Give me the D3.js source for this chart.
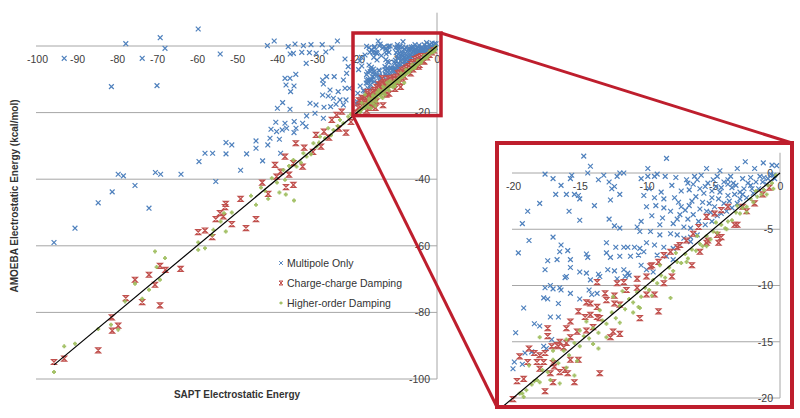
<!DOCTYPE html>
<html><head><meta charset="utf-8">
<script src="https://cdn.jsdelivr.net/npm/d3@7"></script>
<style>body{margin:0;background:#fff;} svg{display:block;font-family:"Liberation Sans",Arial,sans-serif;}</style>
</head><body><svg id="c" width="800" height="418"></svg>
<script>
// ---------- DATA ----------
const seriesNames = ["Multipole Only", "Charge-charge Damping", "Higher-order Damping"];
const xTitle = "SAPT Electrostatic Energy";
const yTitle = "AMOEBA Electrostatic Energy (kcal/mol)";
const mainXTicks = [-100, -90, -80, -70, -60, -50, -40, -30, -20, -10, 0];
const mainYTicks = [0, -20, -40, -60, -80, -100];
const insetXTicks = [-20, -15, -10, -5, 0];
const insetYTicks = [0, -5, -10, -15, -20];
const identityLine = [[-95.75, -95.75], [0, 0]];

const multipoleOnly = [
[-59.7,5.1],[-69.2,2.5],[-68,-0.7],[-77.8,0.7],[-93.2,-3.7],[-73.7,-3.7],[-54.2,-2.4],[-81.4,-12.2],[-70,-11.9],
[-42.4,0.1],[-40.7,1.5],[-37.2,-0.2],[-35.5,0.6],[-33.4,0.1],[-31.5,0.4],[-28.7,0.4],[-26.3,-0.6],[-24.9,1.5],
[-36.7,-2.4],[-35.9,-2.2],[-33.8,-1.9],[-31.9,-2.0],[-30.2,-2.2],[-27.8,-1.8],[-32.7,-5.2],[-23,-3.9],
[-38,-9.7],[-36.75,-9.7],[-35.3,-8.5],[-37.75,-11.7],[-35.75,-12],[-36.6,-13.7],
[-28.6,-10.2],[-27.6,-9.2],[-25.7,-9.2],[-23.4,-10.2],[-28.4,-11.4],[-26.75,-13.2],[-24.7,-13.7],[-23,-12.7],
[-28.6,-14.7],[-27.2,-15],[-25.9,-15.7],[-24.25,-16.2],[-22.75,-16.2],
[-31.75,-17.2],[-30.25,-17.7],[-28.25,-18.4],[-26.6,-18.2],[-25.25,-17.5],[-23.4,-17.7],
[-38.6,-17],[-39.9,-18.7],[-36.75,-19],[-32.6,-21],[-30.5,-20.2],[-28.4,-21.7],
[-40.3,-22.9],[-38,-23.2],[-35.7,-22.7],[-33.6,-23.2],
[-41.5,-25],[-40.1,-25.7],[-38.7,-25.2],[-37.6,-24.7],[-35.25,-24.7],[-32.75,-24.2],
[-41.75,-27.7],[-39.4,-28],[-35.75,-26],
[-45.25,-28.5],[-42.3,-29.7],[-52.75,-29],[-51.3,-29.7],[-45.25,-30.7],
[-58,-32.2],[-56.1,-32.2],[-52.75,-32.4],[-47.6,-32.4],[-39.1,-32.2],
[-59.5,-34.7],[-43.6,-34.5],[-49.1,-37.3],
[-79.7,-38.5],[-78.4,-39],[-70.4,-38],[-69.1,-38.5],[-64,-38.5],[-55.3,-40.7],[-75.5,-41.9],
[-81.2,-43.8],[-84.7,-47.1],[-72,-48.7],[-90.5,-54.7],[-95.75,-59],
[-22.2,-6.2],[-22.6,-8.2],[-21.9,-12.7],
[-14.7,1.5],[-14.2,0.6],[-17.6,-0.1],[-17,-0.5],[-15.6,-0.2],[-15.7,-0.5],[-14.4,0],[-13.6,-0.6],[-13.2,-0.2],
[-12.8,-0.8],[-12.2,-0.3],[-12,0],[-11.7,0],[-12.4,-1.2],[-12.6,-1.4],[-12,-1.9],[-16.4,-1.1],
[-16.8,-1.9],[-16,-1.9],[-15.4,-1.9],[-15.1,-2],[-15,-2.3],[-18,-2.7],[-18.9,-3.4],[-15.8,-3.4],[-13.9,-2.9],[-12.7,-2.4],
[-19.3,-4.5],[-15,-4.2],[-12.8,-4.1],[-12.4,-4.7],[-12,-4.9],[-10.7,-4.8],[-17,-5.7],[-18.8,-6],[-19.6,-7.1],
[-16.4,-6.4],[-16.5,-7],[-15.9,-6.9],[-14.5,-7.2],[-14.4,-7.5],[-13,-6.2],
[-12.3,-6.6],[-11.7,-6.6],[-11.4,-6.6],[-10.9,-6.6],[-10.5,-6.7],
[-13,-7.1],[-12.7,-7.5],[-12,-7.4],[-11.2,-7.4],[-10.6,-7.3],
[-17.4,-7.8],[-16.7,-7.7],[-15.7,-7.7],
[-17.6,-8.6],[-15.7,-8.4],[-15,-8.8],[-14.5,-8.9],[-13.6,-9],[-12.9,-8.6],[-12.4,-8.7],[-11.7,-8.6],[-11.4,-8.9],[-16,-9.2],
[-8.5,1.3],[-9.9,0.4],[-9.2,-0.1],[-9.9,-0.3],[-9.4,-0.3],[-10.4,-0.5],[-8.1,-1.1],
[-10.2,-2],[-9.4,-2.2],[-8.7,-2.3],[-10,-3],[-9.3,-2.9],[-8.7,-3.1],[-7.9,-2.2],[-7.4,-3],[-7.5,-3.7],[-6.6,-2.5],
[-6.4,-0.3],[-5.9,-0.2],[-5.5,0.4],[-6.5,-1],[-6,-1.4],[-5.4,-0.9],[-4.7,-0.3],[-4.2,-0.8],[-3.7,-0.3],[-3.2,0.4],
[-2.6,1],[-1.9,0.4],[-1.25,0.9],[-0.6,0.7],[-0.25,0.65],[-0.9,-0.5],[-1.6,-1.4],[-2.2,-1.1],[-3,-1.7],[-3.9,-2],
[-4.5,-1.7],[-2.5,-2.2],[-3.2,-2.7],[-4.2,-2.7],[-5.1,-2.2],[-4.9,-3],[-5.5,-3.4],[-4,-3.4],[-6.5,-3.7],
[-6.1,-4.3],[-5.6,-4.6],[-5.1,-4.3],[-8,-4.5],[-7.2,-4.8],[-6.7,-4.9],[-10.4,-4.3],[-9,-4.6],
[-10.5,-5.2],[-9.7,-5.2],[-9,-5.5],[-8.2,-5.4],[-7.7,-5.5],[-7.2,-5.8],[-6.7,-5.7],[-6.2,-5.5],
[-10,-6.2],[-9.4,-6.4],[-8.7,-6.6],[-8,-6.7],[-7.5,-6.4],[-6.7,-6.1],
[-10.2,-7],[-9.2,-7.3],[-8.5,-7.4],[-8,-7.7],[-10.4,-8.2],[-10,-8.6],[-9.5,-8.8],
[-17.6,-10.2],[-17.2,-10],[-17,-10.3],[-16.5,-10.2],[-16.4,-10.4],[-15.7,-10.7],[-17.7,-11.1],[-17.4,-11.2],[-16.6,-11.6],
[-19.2,-12],[-15,-11.2],[-14.3,-10.4],[-14.1,-10.8],[-13.7,-10.7],
[-17.2,-12.8],[-16.6,-12.8],[-18.4,-13.4],[-18,-13.6],[-19.8,-14.2],[-17.1,-14.8],[-17.7,-15.4],[-17.5,-15.6],
[-19.1,-16],[-18.6,-15.9],[-19.9,-16.8],[-19.3,-17],[-20,-17.4],
[-16.1,-9.3],[-14.2,-9.5],[-13.5,-9.2],[-12.2,-9.4],[-11.6,-9.2],[-11.3,-9.1],
[-4.5,0.2],[-3.5,-0.9],[-2.8,-0.5],[-1.5,-0.3],[-1,-1],[-0.5,-0.2],[-2,-1.8],[-3.6,-1.3],[-4.8,-1.2],[-5.7,-1.8],
[-6.8,-1.5],[-7,-0.6],[-7.8,-0.4],[-8.6,-0.3],[-3,-2.3],[-2.2,-0.4],[-1.3,-0.8],[-0.7,-0.1],[-5.3,-2.7],[-4.4,-3.6],
[-3.6,-3.1],[-6,-3.2],[-6.9,-4.1],[-7.6,-2.6],
[-6.2,-0.6],[-5.6,-1.2],[-5,-0.6],[-4.4,-1.3],[-3.9,-1],[-3.3,-1.1],[-2.7,-1.4],[-2.4,-0.9],[-1.8,-0.8],[-1.2,-0.4],
[-0.4,-0.5],[-4.6,-2.3],[-3.8,-2.5],[-3.4,-1.9],[-2.8,-1.9],[-6.3,-2.1],[-5.8,-2.6],[-5.2,-3.5],[-4.7,-3.8],[-7.1,-3.3],
[-6.8,-2.9],[-8.2,-3.4],[-8.8,-4],[-7.7,-4.1],[-9.6,-3.8],[-9.8,-1.4],[-8.9,-1.7],[-7.4,-1.6],[-6.9,-0.9],[-5.1,-1.6],
[-3.9,-0.6],[-2.1,-1.4]
];

const chargeDamping = [
[-43.7,-41],[-42.2,-44.4],[-37.75,-42.4],[-35.9,-41.7],[-49.1,-45.9],
[-52.8,-47.4],[-53,-48.4],[-54.25,-50.2],[-53.4,-51.2],[-55.3,-52],[-51.3,-53.5],[-45.25,-52],[-47.75,-54.7],
[-59.7,-55.9],[-58,-55.4],[-56.2,-57.4],
[-64.1,-66.9],[-67.9,-67.2],[-69.25,-66],[-72,-68.7],[-75.5,-70.2],[-70.5,-71.7],
[-77.8,-75.7],[-73.7,-76.9],[-69.25,-77.9],
[-81.3,-81.5],[-79.7,-84],[-81.2,-85.5],[-84.7,-91.4],[-95.75,-94.9],[-93.2,-93.9],
[-40.5,-35.7],[-39.1,-37.7],[-38,-33.2],[-35.3,-29.2],[-33.2,-30.5],[-30.25,-26.7],[-28.25,-25.7],[-22.75,-26],
[-26.3,-22.2],[-25.1,-20.7],[-23.8,-19.7],[-35.9,-35.2],[-33.6,-36.2],[-40.1,-39.2],
[-31,-31.8],[-29,-30.2],[-27,-27.5],[-24.5,-24.8],[-21.5,-22.8],[-37,-38.6],
[-9.6,-8.2],[-9.1,-7.9],[-8.7,-7.3],[-8.2,-7],[-7.5,-6.4],[-7,-6],[-6.5,-5.4],[-6.1,-4.8],[-5.5,-3.9],[-4.9,-3.6],[-4.4,-3.3],[-3.9,-3],
[-6.6,-8.2],[-6,-7],[-5.4,-6],[-4.6,-6.2],[-3.2,-4.6],[-2.5,-3.4],[-1.9,-2.7],[-5.5,-6.2],[-4.7,-5.5],[-4.4,-5.7],
[-3.4,-4.6],[-7.7,-6.6],[-9.7,-8.3],[-2.8,-3.0],[-1.3,-1.9],[-0.8,-1.3],
[-13.7,-9.7],[-12.2,-9.8],[-11.7,-9.7],[-10.7,-9.4],[-10,-9.2],[-8.7,-9.8],[-8.1,-9.2],
[-13.1,-10.7],[-12.4,-10.9],[-11.5,-10.4],[-10.7,-10.2],[-10,-10.8],[-9.4,-10.8],
[-13,-11.3],[-12.4,-11.6],[-12,-11.7],
[-14.5,-11.5],[-14.2,-11.6],[-13.7,-11.9],[-15.1,-12.3],[-14.6,-12.8],[-14.2,-12.6],[-13.7,-12.8],[-13.5,-12.9],
[-15.7,-13.2],[-17.4,-13.8],[-17.4,-14.5],[-16,-13.8],[-15.2,-14.1],[-14.5,-14],[-14,-13.7],
[-10.5,-12.9],[-9.1,-12.3],[-12.7,-14.6],[-12,-14.3],[-12.5,-14.1],
[-15.7,-14.6],[-16.5,-15],[-16.7,-15.3],[-16,-15.1],
[-18.8,-15.6],[-18.4,-16],[-18,-16.2],[-17.6,-16],[-17.1,-15.4],[-16.6,-15.4],[-16.2,-15.5],
[-19.5,-16.3],[-18.9,-16.8],[-18.2,-16.8],[-17.7,-16.8],[-17,-16.9],[-15.7,-16.6],[-15.1,-16.6],
[-18,-17.4],[-17.2,-17.8],[-16.9,-17.2],[-16.5,-17.7],[-16.1,-17.5],[-15.9,-17.8],
[-19.7,-18.5],[-19.2,-18.3],[-17,-18.6],[-15.4,-18.6],[-13.5,-17.8],[-17.6,-19.4],[-20,-20.1]
];

const higherOrderDamping = [
[-45.25,-47.7],[-42.2,-45.9],[-39.4,-44],[-37.8,-44.6],[-35.75,-46.4],
[-53.25,-50.2],[-51.3,-50],[-54.1,-52.7],[-52.8,-55.7],[-55.9,-55.2],[-56.2,-56.7],
[-59.7,-59],[-59.7,-61.2],[-58,-60.7],
[-70.5,-61.7],[-68,-63.7],[-70.1,-66.4],[-69.25,-70.2],[-72,-73.2],
[-75.5,-71.4],[-78,-76.7],[-73.7,-75.9],
[-84.7,-85],[-81.5,-83.7],[-79.7,-85.2],
[-93.2,-90.2],[-90.5,-89.4],[-95.75,-97.9],
[-41.3,-39.7],[-38.4,-37.2],[-35.9,-34.2],[-33.4,-32.2],[-30.9,-29.2],[-29.25,-27.2],[-27.2,-24.7],[-24.25,-22.2],[-22.2,-21.2],
[-38,-40.2],[-35.1,-36.2],[-32.6,-33.2],[-30.1,-30.2],[-28,-27.7],[-25.9,-25.2],[-23.4,-23.2],
[-44,-42.5],[-40,-41],[-37,-36],[-34,-35],[-31.5,-32.5],[-29.5,-29],[-26.5,-26.8],[-24.8,-24],[-21.5,-20.5],[-43,-43.5],[-46.5,-45],
[-0.3,-0.2],[-0.6,-0.9],[-0.9,-1.1],[-1.2,-1.5],[-1.4,-1.9],[-1.7,-2.1],[-2,-2.6],[-2.2,-2.3],[-2.5,-3],[-2.8,-3.1],
[-3,-3.6],[-3.3,-3.5],[-3.6,-4.2],[-3.9,-4.3],[-4.1,-4.9],[-4.4,-4.6],[-4.7,-5.3],[-5,-5.2],[-5.2,-5.9],[-5.5,-5.6],
[-5.8,-6.5],[-6,-6.3],[-6.3,-6.9],[-6.6,-6.8],[-6.9,-7.6],[-7.1,-7.2],[-7.4,-8],[-7.7,-7.9],[-8,-8.7],[-8.3,-8.4],
[-8.6,-9.3],[-8.9,-9.1],[-9.2,-9.8],[-9.5,-9.5],[-9.8,-10.4],[-10.1,-10.2],[-10.4,-11],[-10.7,-10.6],[-11,-11.5],[-11.3,-11.2],
[-11.6,-12.1],[-12,-11.8],[-12.3,-12.9],[-12.6,-12.4],[-13,-13.4],[-13.3,-13.1],[-13.6,-14.2],[-14,-13.8],[-14.3,-14.7],[-14.7,-14.5],
[-15,-15.4],[-15.4,-15.1],[-15.8,-16.2],[-16.2,-15.8],[-16.6,-16.9],[-17,-16.6],[-17.4,-17.7],[-17.8,-17.5],[-18.2,-18.4],[-18.6,-18.8],
[-19,-19.3],[-19.5,-19.6],
[-8.2,-11.1],[-10.6,-11.9],[-13.6,-15.6],[-15.4,-18],[-16.5,-18.7],[-18,-18.6],[-18.4,-18.5],[-19.3,-19.6],[-19.2,-19.9],
[-18,-14.6],[-18.8,-17.1],[-12.5,-11],[-11.8,-10.5],[-13.5,-12.2],[-14.5,-13.2],[-15,-14],[-16,-14.8],[-17,-15.8],
[-9,-8.2],[-7.8,-7.1],[-6.2,-5.6],[-4.8,-4.4],[-3.2,-2.9],[-1.8,-1.6],[-9.6,-10.9],[-11,-12.4],[-12,-13.3],[-14,-15.2],
[-16,-17.3],[-17.2,-18.4],[-15.2,-16.7],[-13,-14.6],[-10.5,-12],[-7,-7.9],[-5.5,-6.5],[-4,-5],[-2.5,-3.5],[-1,-1.9],[-0.5,-1.4]
];

// ---------- STYLE ----------
const colors = ["#4f81bd", "#c0504d", "#9bbb59"];
const markerPaths = [
  "M-2.4,-2.4L2.4,2.4M-2.4,2.4L2.4,-2.4",
  "M-2.5,-2.5H2.5L-2.5,2.5H2.5Z",
  "M-2,0H2M0,-2V2"
];
const gridColor = "#a6a6a6";
const zoomRed = "#be1e2d";
const tickColor = "#404040";
const fmt = d => String(d);

const svg = d3.select("#c");

// ---------- SCALES ----------
const xM = d3.scaleLinear().domain([-100, 0]).range([37, 437]);
const yM = d3.scaleLinear().domain([-100, 0]).range([379, 46]);
const xI = d3.scaleLinear().domain([-20, 0]).range([513, 780]);
const yI = d3.scaleLinear().domain([-20, 0]).range([398, 173]);

function drawPanel(g, x, y, xTicks, yTicks, gridX0, yTopVal, clipId) {
  g.append("g").selectAll("line").data(yTicks).join("line")
    .attr("x1", gridX0).attr("x2", x(0))
    .attr("y1", d => y(d)).attr("y2", d => y(d))
    .attr("stroke", gridColor).attr("stroke-width", 1);
  g.append("line").attr("x1", x(0)).attr("x2", x(0))
    .attr("y1", y(yTicks[yTicks.length - 1])).attr("y2", y(yTopVal))
    .attr("stroke", gridColor).attr("stroke-width", 1);

  const ax = g.append("g").attr("transform", `translate(0,${y(0)})`)
    .call(d3.axisBottom(x).tickValues(xTicks).tickSize(0).tickPadding(10).tickFormat(fmt));
  ax.select(".domain").remove();
  ax.selectAll("text").attr("fill", tickColor).style("font-size", "10.5px").style("font-family", '"Liberation Sans",Arial,sans-serif');

  const ay = g.append("g").attr("transform", `translate(${x(0)},0)`)
    .call(d3.axisLeft(y).tickValues(yTicks).tickSize(0).tickPadding(7).tickFormat(fmt));
  ay.select(".domain").remove();
  ay.selectAll("text").attr("fill", tickColor).style("font-size", "10.5px").style("font-family", '"Liberation Sans",Arial,sans-serif');

  const pg = g.append("g");
  if (clipId) pg.attr("clip-path", `url(#${clipId})`);
  [multipoleOnly, chargeDamping, higherOrderDamping].forEach((data, i) => {
    pg.append("g").selectAll("path").data(data).join("path")
      .attr("transform", d => `translate(${x(d[0])},${y(d[1])})`)
      .attr("d", markerPaths[i])
      .attr("fill", i === 1 ? "#efc3c2" : "none")
      .attr("stroke", colors[i])
      .attr("stroke-width", i === 2 ? 1.8 : 1.2)
      .attr("stroke-opacity", i === 2 ? 0.9 : 1);
  });
  pg.append("path").datum(identityLine)
    .attr("d", d3.line().x(d => x(d[0])).y(d => y(d[1])))
    .attr("stroke", "#000").attr("stroke-width", 1.2).attr("fill", "none");
}

svg.append("defs").append("clipPath").attr("id", "insetClip")
  .append("rect").attr("x", 499).attr("y", 145).attr("width", 291).attr("height", 260);

drawPanel(svg.append("g"), xM, yM, mainXTicks, mainYTicks, 36, 10, null);

svg.append("text").attr("transform", "translate(15,196) rotate(-90)")
  .attr("text-anchor", "middle").attr("dominant-baseline", "middle")
  .style("font-size", "10px").style("font-weight", "bold").attr("fill", "#333")
  .text(yTitle);
svg.append("text").attr("x", 237).attr("y", 398)
  .attr("text-anchor", "middle")
  .style("font-size", "10px").style("font-weight", "bold").attr("fill", "#333")
  .text(xTitle);

const lg = svg.append("g");
seriesNames.forEach((name, i) => {
  const cy = 263 + i * 20;
  lg.append("path").attr("transform", `translate(281,${cy}) scale(0.8)`)
    .attr("d", markerPaths[i]).attr("fill", i === 1 ? "#efc3c2" : "none")
    .attr("stroke", colors[i]).attr("stroke-width", i === 2 ? 1.6 : 1.2);
  lg.append("text").attr("x", 287).attr("y", cy).attr("dy", "0.35em")
    .style("font-size", "10.5px").attr("fill", "#333").text(name);
});

svg.append("rect").attr("x", 497).attr("y", 143).attr("width", 295).attr("height", 264).attr("fill", "#fff");
drawPanel(svg.append("g"), xI, yI, insetXTicks, insetYTicks, 512, 1.8, "insetClip");

const zr = { x0: xM(-20) - 4, x1: xM(0) + 4, y0: yM(0) - 13, y1: yM(-20) + 3 };
const ir = { x0: 497, x1: 792, y0: 143, y1: 407 };
const red = svg.append("g").attr("stroke", zoomRed).attr("fill", "none");
red.append("rect").attr("x", zr.x0).attr("y", zr.y0).attr("width", zr.x1 - zr.x0).attr("height", zr.y1 - zr.y0).attr("stroke-width", 3.5);
red.append("rect").attr("x", ir.x0).attr("y", ir.y0).attr("width", ir.x1 - ir.x0).attr("height", ir.y1 - ir.y0).attr("stroke-width", 4);
red.append("line").attr("x1", zr.x1).attr("y1", zr.y0).attr("x2", ir.x1).attr("y2", ir.y0).attr("stroke-width", 3);
red.append("line").attr("x1", zr.x0).attr("y1", zr.y1).attr("x2", ir.x0).attr("y2", ir.y1).attr("stroke-width", 3);
</script></body></html>
